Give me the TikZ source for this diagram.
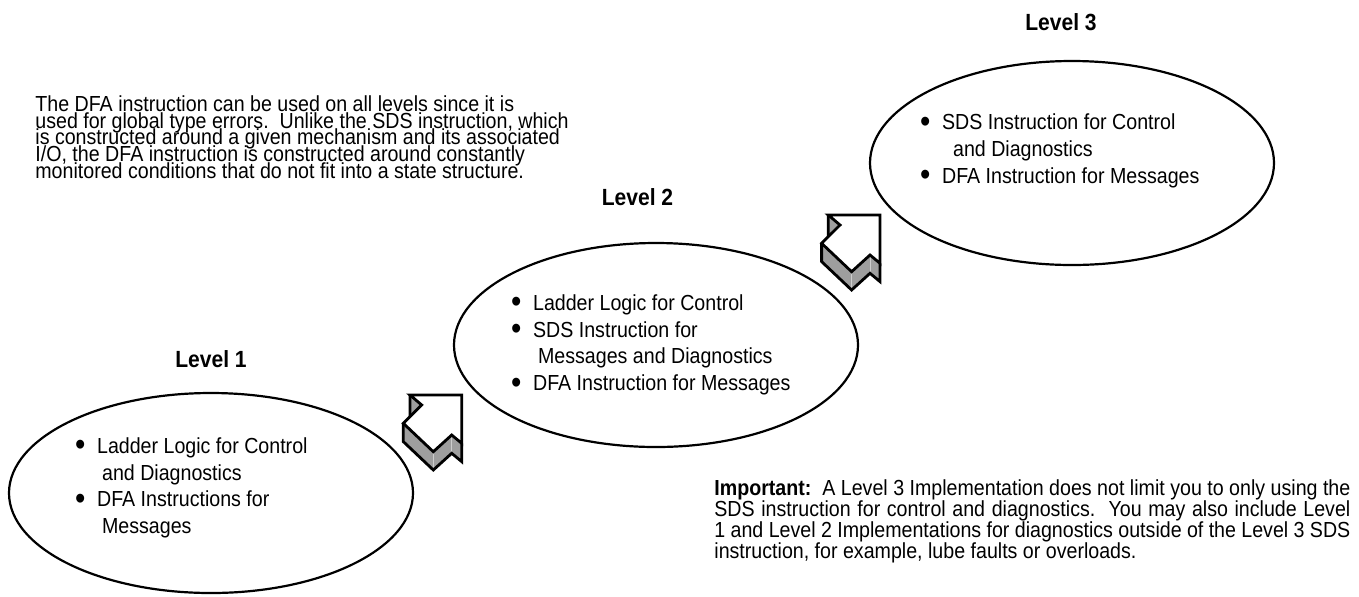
\documentclass[tikz,border=0pt]{standalone}
\usepackage{fontspec}
\setmainfont{Liberation Sans}[FakeStretch=0.9]
\usetikzlibrary{shapes.geometric}
\definecolor{shadegray}{RGB}{158,158,158}
\definecolor{edgegray}{RGB}{205,205,205}
\newcommand{\tightlines}{\lineskiplimit=-10pt\relax}
\tikzset{
  levelellipse/.style={ellipse,draw,line width=1.1pt,minimum width=202pt,inner sep=0pt},
  leveltitle/.style={font=\fontsize{11.7}{14}\selectfont\bfseries,anchor=base,inner sep=0pt},
  bullettext/.style={font=\fontsize{10.9}{13.35}\selectfont,align=left,anchor=north west,inner sep=0pt},
  notetext/.style={font=\fontsize{10.9}{8.35}\selectfont\tightlines,align=left,anchor=north west,inner sep=0pt},
  importtext/.style={font=\fontsize{10.9}{10.5}\selectfont,align=justify,text width=318pt,anchor=north west,inner sep=0pt},
}
\newcommand{\bulletmark}{\makebox[11pt][l]{\raisebox{-0.12em}{\scalebox{1.5}{\textbullet}}}}
\newcommand{\bulletcont}{\hspace*{13.5pt}}
\newcommand{\stairarrow}[2]{%
  \begin{scope}[shift={(#1,#2)}]
    \fill[shadegray] (0,0) -- (11.7,10) -- (0,21.6) -- cycle;
    \fill[shadegray] (-6.7,28.3) -- (23.3,56.7) -- (41.7,40) -- (51.7,48.3) -- (51.7,66.6)
      -- (41.7,58.3) -- (23.3,75) -- (-6.7,46.6) -- cycle;
    \draw[edgegray,line width=0.5pt] (23.3,56.7) -- (23.3,75) (41.7,40) -- (41.7,58.3);
    \filldraw[fill=white,line width=1.4pt] (0,0) -- (51.7,0) -- (51.7,48.3) -- (41.7,40)
      -- (23.3,56.7) -- (-6.7,28.3) -- (11.7,10) -- cycle;
    \draw[line width=1.4pt] (51.7,48.3) -- (51.7,66.6) -- (41.7,58.3) -- (23.3,75)
      -- (-6.7,46.6) -- (-6.7,28.3) (0,0) -- (0,21.6);
  \end{scope}}

\begin{document}
\begin{tikzpicture}[x=0.5pt,y=-0.5pt]
    \useasboundingbox (0,0) rectangle (1359,596);

    % the three levels
    \node[levelellipse,minimum height=100pt] (lvlone) at (211,493) {};
    \node[levelellipse,minimum height=102pt] (lvltwo) at (656,345) {};
    \node[levelellipse,minimum height=102pt] (lvlthree) at (1072,163) {};

    \node[leveltitle] (lvlonetitle) at (211,367) {Level 1};
    \node[leveltitle] (lvltwotitle) at (637.5,205) {Level 2};
    \node[leveltitle] (lvlthreetitle) at (1061,30) {Level 3};

    \node[bullettext] (lvlonetext) at (74.7,437.1) {\bulletmark Ladder Logic for Control\\
      \bulletcont and Diagnostics\\
      \bulletmark DFA Instructions for\\
      \bulletcont Messages};
    \node[bullettext] (lvltwotext) at (510.7,294.1) {\bulletmark Ladder Logic for Control\\
      \bulletmark SDS Instruction for\\
      \bulletcont Messages and Diagnostics\\
      \bulletmark DFA Instruction for Messages};
    \node[bullettext] (lvlthreetext) at (919.7,113.4) {\bulletmark SDS Instruction for Control\\
      \bulletcont\hspace*{3pt}and Diagnostics\\
      \bulletmark DFA Instruction for Messages};

    % steps up between the levels
    \stairarrow{410}{395}
    \stairarrow{828.3}{215}

    % notes
    \node[notetext] (dfanote) at (35,95.1) {The DFA instruction can be used on all levels since it is\\
      used for global type errors.\ \ Unlike the SDS instruction, which\\
      is constructed around a given mechanism and its associated\\
      I/O, the DFA instruction is constructed around constantly\\
      monitored conditions that do not fit into a state structure.};
    \node[importtext] (importnote) at (714,479.1) {\textbf{Important:}\ \ A Level 3 Implementation does not limit you to only using the\linebreak
      SDS instruction for control and diagnostics.\ \ You may also include Level\linebreak
      1 and Level 2 Implementations for diagnostics outside of the Level 3 SDS\linebreak
      instruction, for example, lube faults or overloads.};
\end{tikzpicture}
\end{document}
